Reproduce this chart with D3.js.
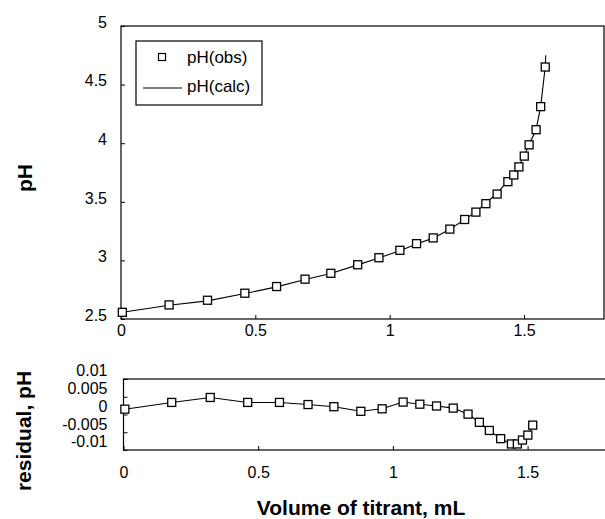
<!DOCTYPE html>
<html>
<head>
<meta charset="utf-8">
<script src="https://cdn.jsdelivr.net/npm/d3@7"></script>
<style>
  html, body { margin: 0; padding: 0; background: #fff; }
  svg { display: block; }
  text { font-family: "Liberation Sans", Arial, Helvetica, sans-serif; fill: #000; }
</style>
</head>
<body>
<svg id="chart" width="605" height="519"></svg>
<script>
// ---- data ----
const volume = [0.005, 0.179, 0.322, 0.461, 0.579, 0.685, 0.781, 0.881, 0.960, 1.038, 1.100, 1.162, 1.224, 1.279, 1.321, 1.358, 1.400, 1.440, 1.462, 1.481, 1.501, 1.519, 1.545, 1.562, 1.579];
const pHObs = [2.557, 2.62, 2.66, 2.72, 2.777, 2.84, 2.89, 2.963, 3.023, 3.086, 3.143, 3.192, 3.267, 3.349, 3.412, 3.484, 3.566, 3.672, 3.729, 3.798, 3.89, 3.986, 4.115, 4.312, 4.65];
const calcVolume = [0.0, 0.179, 0.322, 0.461, 0.579, 0.685, 0.781, 0.881, 0.960, 1.038, 1.100, 1.162, 1.224, 1.279, 1.321, 1.358, 1.400, 1.440, 1.462, 1.481, 1.501, 1.519, 1.545, 1.562, 1.579, 1.581];
const pHCalc = [2.555, 2.617, 2.655, 2.717, 2.774, 2.837, 2.888, 2.962, 3.021, 3.083, 3.140, 3.190, 3.265, 3.349, 3.414, 3.489, 3.573, 3.680, 3.737, 3.805, 3.896, 3.989, 4.115, 4.312, 4.65, 4.75];
const residual = [0.0015, 0.0034, 0.0048, 0.0034, 0.0034, 0.0028, 0.0022, 0.0009, 0.0016, 0.0035, 0.0029, 0.0024, 0.0018, 0.0001, -0.0022, -0.0045, -0.0068, -0.0083, -0.0083, -0.0072, -0.0058, -0.0030];
const xTicks = [0, 0.5, 1, 1.5];
const xTickLabels = ["0", "0.5", "1", "1.5"];
const pHTicks = [2.5, 3, 3.5, 4, 4.5, 5];
const pHTickLabels = ["2.5", "3", "3.5", "4", "4.5", "5"];
const resTicks = [-0.01, -0.005, 0, 0.005, 0.01];
const resTickLabels = ["-0.01", "-0.005", "0", "0.005", "0.01"];
const legendLabels = ["pH(obs)", "pH(calc)"];
const xTitle = "Volume of titrant, mL";
const yTitleTop = "pH";
const yTitleBottom = "residual, pH";

// ---- layout ----
const svg = d3.select("#chart");
const pTop = { left: 121, right: 604.6, top: 26, bottom: 319 };
const pBot = { left: 123.5, right: 608.4, top: 379, bottom: 450 };

const x1 = d3.scaleLinear().domain([0, 1.8]).range([pTop.left, pTop.right]);
const y1 = d3.scaleLinear().domain([2.5, 5]).range([pTop.bottom, pTop.top]);
const x2 = d3.scaleLinear().domain([0, 1.8]).range([pBot.left, pBot.right]);
const y2 = d3.scaleLinear().domain([-0.01, 0.01]).range([pBot.bottom, pBot.top]);

const fontTick = 16;
const ff = "'Liberation Sans', Arial, sans-serif";

// ---- upper panel ----
const gTop = svg.append("g");
gTop.append("rect")
  .attr("x", pTop.left).attr("y", pTop.top)
  .attr("width", 604 - pTop.left).attr("height", pTop.bottom - pTop.top)
  .attr("fill", "none").attr("stroke", "#000").attr("stroke-width", 1.2);

const yAxis1 = d3.axisLeft(y1).tickValues(pHTicks)
  .tickFormat((d, i) => pHTickLabels[i]).tickSize(-4).tickPadding(14);
const gy1 = gTop.append("g").attr("transform", `translate(${pTop.left},0)`).call(yAxis1);
gy1.select(".domain").remove();
gy1.selectAll("text").attr("font-size", fontTick).attr("dy", "0.08em").style("font-family", ff);

const xAxis1 = d3.axisBottom(x1).tickValues(xTicks)
  .tickFormat((d, i) => xTickLabels[i]).tickSize(-4).tickPadding(6);
const gx1 = gTop.append("g").attr("transform", `translate(0,${pTop.bottom})`).call(xAxis1);
gx1.select(".domain").remove();
gx1.selectAll("text").attr("font-size", fontTick).attr("y", 17).attr("dy", "0").style("font-family", ff);

// calc line
gTop.append("path")
  .datum(calcVolume.map((v, i) => [v, pHCalc[i]]))
  .attr("fill", "none").attr("stroke", "#000").attr("stroke-width", 1.1)
  .attr("d", d3.line().x(d => x1(d[0])).y(d => y1(d[1])));

// obs markers
const ms = 8;
gTop.selectAll("rect.obs")
  .data(volume.map((v, i) => [v, pHObs[i]]))
  .join("rect").attr("class", "obs")
  .attr("x", d => x1(d[0]) - ms / 2).attr("y", d => y1(d[1]) - ms / 2)
  .attr("width", ms).attr("height", ms)
  .attr("fill", "#fff").attr("stroke", "#000").attr("stroke-width", 1.3);

// legend
const lg = gTop.append("g");
lg.append("rect").attr("x", 136).attr("y", 41).attr("width", 126).attr("height", 64)
  .attr("fill", "#fff").attr("stroke", "#000").attr("stroke-width", 1.2);
lg.append("rect").attr("x", 162 - 3.5).attr("y", 57 - 3.5).attr("width", 7).attr("height", 7)
  .attr("fill", "#fff").attr("stroke", "#000").attr("stroke-width", 1.2);
lg.append("line").attr("x1", 143).attr("x2", 182).attr("y1", 88).attr("y2", 88)
  .attr("stroke", "#000").attr("stroke-width", 1.1);
lg.append("text").attr("x", 187).attr("y", 63).attr("font-size", 17).text(legendLabels[0]);
lg.append("text").attr("x", 187).attr("y", 92).attr("font-size", 17).text(legendLabels[1]);

// ---- lower panel ----
const gBot = svg.append("g");
gBot.append("rect")
  .attr("x", pBot.left).attr("y", pBot.top)
  .attr("width", 606 - pBot.left).attr("height", pBot.bottom - pBot.top)
  .attr("fill", "none").attr("stroke", "#000").attr("stroke-width", 1.2);

const yAxis2 = d3.axisLeft(y2).tickValues(resTicks)
  .tickFormat((d, i) => resTickLabels[i]).tickSize(-4).tickPadding(16);
const gy2 = gBot.append("g").attr("transform", `translate(${pBot.left},0)`).call(yAxis2);
gy2.select(".domain").remove();
gy2.selectAll("text").attr("font-size", fontTick).attr("dy", "-0.2em").style("font-family", ff);

const xAxis2 = d3.axisBottom(x2).tickValues(xTicks)
  .tickFormat((d, i) => xTickLabels[i]).tickSize(-4).tickPadding(6);
const gx2 = gBot.append("g").attr("transform", `translate(0,${pBot.bottom})`).call(xAxis2);
gx2.select(".domain").remove();
gx2.selectAll("text").attr("font-size", fontTick).attr("y", 28).attr("dy", "0").style("font-family", ff);

const resData = residual.map((r, i) => [volume[i], r]);
gBot.append("path").datum(resData)
  .attr("fill", "none").attr("stroke", "#000").attr("stroke-width", 1.1)
  .attr("d", d3.line().x(d => x2(d[0])).y(d => y2(d[1])));
gBot.selectAll("rect.res").data(resData).join("rect").attr("class", "res")
  .attr("x", d => x2(d[0]) - ms / 2).attr("y", d => y2(d[1]) - ms / 2)
  .attr("width", ms).attr("height", ms)
  .attr("fill", "#fff").attr("stroke", "#000").attr("stroke-width", 1.3);

// ---- titles ----
svg.append("text").attr("x", 361).attr("y", 515).attr("text-anchor", "middle")
  .attr("font-size", 21).attr("font-weight", "bold").text(xTitle);
svg.append("text").attr("transform", "translate(32,178) rotate(-90)")
  .attr("text-anchor", "middle").attr("font-size", 21).attr("font-weight", "bold").text(yTitleTop);
svg.append("text").attr("transform", "translate(31,431) rotate(-90)")
  .attr("text-anchor", "middle").attr("font-size", 21).attr("font-weight", "bold").text(yTitleBottom);
</script>
</body>
</html>
